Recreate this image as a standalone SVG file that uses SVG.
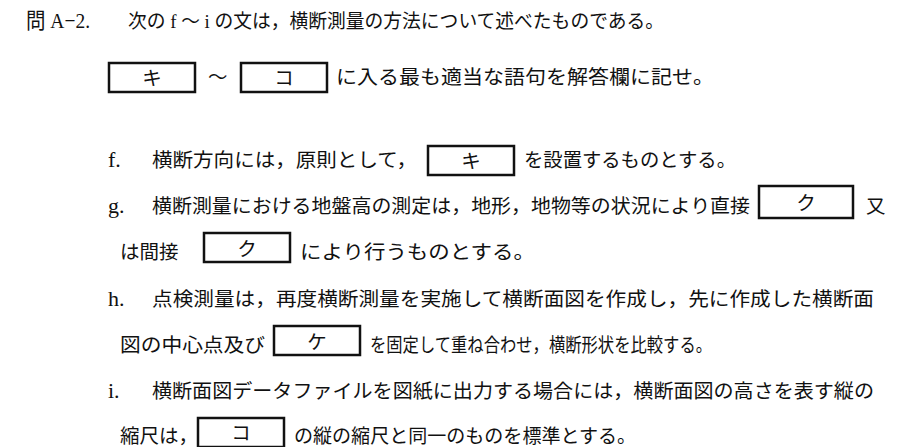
<svg xmlns="http://www.w3.org/2000/svg" width="913" height="447" viewBox="0 0 913 447">
<style>
text{font-family:"Liberation Serif","Noto Sans CJK JP",serif;font-size:19.5px;fill:#111}
.l{font-size:22px}
.b{fill:#fff;stroke:#111;stroke-width:2.5}
.c{text-anchor:middle}
</style>
<rect width="913" height="447" fill="#fff"/>
<g id="title">
<text x="26" y="28" class="l" textLength="64" lengthAdjust="spacingAndGlyphs">問 A−2.</text>
<text x="128" y="28" textLength="536" lengthAdjust="spacingAndGlyphs">次の  f ～ i  の文は，横断測量の方法について述べたものである。</text>
</g>
<g id="line2">
<rect class="b" x="109" y="63" width="86" height="29"/>
<text class="c" x="152" y="85">キ</text>
<text x="208" y="84">～</text>
<rect class="b" x="241" y="63" width="86" height="29"/>
<text class="c" x="284" y="85">コ</text>
<text x="336" y="84" textLength="378" lengthAdjust="spacingAndGlyphs">に入る最も適当な語句を解答欄に記せ。</text>
</g>
<g id="f">
<text x="108" y="167" class="l">f.</text>
<text x="152" y="167" textLength="265" lengthAdjust="spacingAndGlyphs">横断方向には，原則として，</text>
<rect class="b" x="428" y="146" width="86" height="29"/>
<text class="c" x="471" y="168">キ</text>
<text x="524" y="167" textLength="212" lengthAdjust="spacingAndGlyphs">を設置するものとする。</text>
</g>
<g id="g">
<text x="108" y="213" class="l">g.</text>
<text x="152" y="213" textLength="598" lengthAdjust="spacingAndGlyphs">横断測量における地盤高の測定は，地形，地物等の状況により直接</text>
<rect class="b" x="759" y="186" width="94" height="32"/>
<text class="c" x="806" y="210">ク</text>
<text x="866" y="213">又</text>
<text x="120" y="259">は間接</text>
<rect class="b" x="204" y="233" width="86" height="29"/>
<text class="c" x="247" y="256">ク</text>
<text x="300" y="259" textLength="235" lengthAdjust="spacingAndGlyphs">により行うものとする。</text>
</g>
<g id="h">
<text x="108" y="306" class="l">h.</text>
<text x="152" y="306" textLength="722" lengthAdjust="spacingAndGlyphs">点検測量は，再度横断測量を実施して横断面図を作成し，先に作成した横断面</text>
<text x="120" y="352" textLength="145" lengthAdjust="spacingAndGlyphs">図の中心点及び</text>
<rect class="b" x="274" y="326" width="86" height="29"/>
<text class="c" x="317" y="349">ケ</text>
<text x="370" y="352" textLength="342" lengthAdjust="spacingAndGlyphs">を固定して重ね合わせ，横断形状を比較する。</text>
</g>
<g id="i">
<text x="108" y="398" class="l">i.</text>
<text x="152" y="398" textLength="722" lengthAdjust="spacingAndGlyphs">横断面図データファイルを図紙に出力する場合には，横断面図の高さを表す縦の</text>
<text x="120" y="443">縮尺は，</text>
<rect class="b" x="198" y="418" width="86" height="29"/>
<text class="c" x="241" y="440">コ</text>
<text x="294" y="443" textLength="342" lengthAdjust="spacingAndGlyphs">の縦の縮尺と同一のものを標準とする。</text>
</g>
</svg>
